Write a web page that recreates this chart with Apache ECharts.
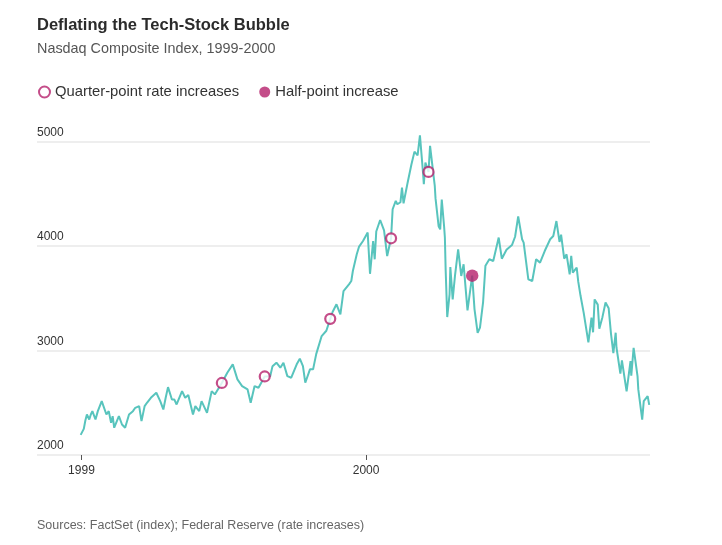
<!DOCTYPE html>
<html><head><meta charset="utf-8">
<script src="https://cdn.jsdelivr.net/npm/echarts@6/dist/echarts.min.js"></script>
<style>html,body{margin:0;padding:0;background:#fff}#c{width:722px;height:545px}</style>
</head><body><div id="c"></div>
<script>
const titleText = 'Deflating the Tech-Stock Bubble';
const subtitleText = 'Nasdaq Composite Index, 1999-2000';
const sourceText = 'Sources: FactSet (index); Federal Reserve (rate increases)';
const quarterName = 'Quarter-point rate increases';
const halfName = 'Half-point increase';

const dates = [
'1998-12-31','1999-01-04','1999-01-06','1999-01-08','1999-01-11','1999-01-13','1999-01-15','1999-01-19','1999-01-22','1999-01-27',
'1999-01-29','1999-02-02','1999-02-05','1999-02-08','1999-02-10','1999-02-12','1999-02-18','1999-02-22','1999-02-26','1999-03-03',
'1999-03-08','1999-03-11','1999-03-16','1999-03-19','1999-03-23','1999-03-26','1999-03-31','1999-04-07','1999-04-12','1999-04-16',
'1999-04-19','1999-04-22','1999-04-27','1999-04-30','1999-05-03','1999-05-10','1999-05-14','1999-05-18','1999-05-24','1999-05-27',
'1999-06-01','1999-06-04','1999-06-11','1999-06-17','1999-06-21','1999-06-30','1999-07-07','1999-07-14','1999-07-20','1999-07-26',
'1999-08-02','1999-08-06','1999-08-11','1999-08-16','1999-08-24','1999-08-31','1999-09-03','1999-09-08','1999-09-13','1999-09-17',
'1999-09-22','1999-09-27','1999-10-04','1999-10-08','1999-10-12','1999-10-15','1999-10-21','1999-10-25','1999-10-29','1999-11-05',
'1999-11-11','1999-11-16','1999-11-19','1999-11-24','1999-11-29','1999-12-03','1999-12-10','1999-12-13','1999-12-15','1999-12-20',
'1999-12-23','1999-12-28','2000-01-03','2000-01-06','2000-01-10','2000-01-12','2000-01-14','2000-01-19','2000-01-24','2000-01-28',
'2000-02-02','2000-02-04','2000-02-08','2000-02-10','2000-02-14','2000-02-16','2000-02-18','2000-02-23','2000-02-28','2000-03-03',
'2000-03-07','2000-03-10','2000-03-14','2000-03-15','2000-03-17','2000-03-21','2000-03-23','2000-03-24','2000-03-29','2000-03-30',
'2000-04-03','2000-04-05','2000-04-07','2000-04-10','2000-04-11','2000-04-12','2000-04-14','2000-04-17','2000-04-18','2000-04-21',
'2000-04-24','2000-04-28','2000-05-02','2000-05-05','2000-05-10','2000-05-16','2000-05-19','2000-05-23','2000-05-26','2000-05-30',
'2000-06-02','2000-06-07','2000-06-12','2000-06-19','2000-06-23','2000-06-29','2000-07-06','2000-07-10','2000-07-14','2000-07-19',
'2000-07-21','2000-07-27','2000-08-01','2000-08-06','2000-08-11','2000-08-17','2000-08-24','2000-08-28','2000-09-01','2000-09-05',
'2000-09-07','2000-09-11','2000-09-14','2000-09-18','2000-09-20','2000-09-22','2000-09-27','2000-09-29','2000-10-02','2000-10-06',
'2000-10-12','2000-10-16','2000-10-18','2000-10-20','2000-10-24','2000-10-26','2000-10-30','2000-11-03','2000-11-07','2000-11-10',
'2000-11-13','2000-11-16','2000-11-17','2000-11-22','2000-11-24','2000-11-30','2000-12-05','2000-12-06','2000-12-09','2000-12-14',
'2000-12-15','2000-12-20','2000-12-22','2000-12-27','2000-12-29'
];
const values = [
2193,2250,2330,2388,2340,2388,2420,2340,2420,2516,
2500,2388,2420,2308,2372,2261,2372,2292,2261,2388,
2420,2452,2468,2324,2468,2500,2548,2596,2516,2436,
2548,2650,2532,2532,2484,2612,2548,2575,2388,2468,
2420,2516,2404,2612,2580,2690,2788,2868,2724,2660,
2628,2500,2660,2644,2752,2755,2851,2884,2836,2884,
2755,2740,2868,2922,2851,2692,2820,2820,2966,3139,
3190,3304,3369,3443,3347,3570,3634,3666,3762,3922,
3996,4049,4131,3735,4049,3874,4140,4250,4150,3905,
4075,4353,4433,4401,4420,4560,4410,4600,4780,4905,
4870,5060,4700,4593,4800,4711,4960,4970,4580,4457,
4190,4160,4446,4188,4080,3769,3321,3539,3800,3490,
3720,3970,3714,3826,3385,3717,3395,3170,3219,3465,
3813,3874,3858,4082,3880,3965,4010,4090,4285,4066,
4034,3682,3666,3874,3842,3953,4066,4097,4240,4040,
4110,3880,3922,3730,3906,3746,3794,3660,3522,3361,
3078,3315,3175,3490,3440,3210,3320,3460,3405,3160,
2975,3171,3030,2780,2905,2610,2899,2760,3025,2755,
2628,2338,2516,2564,2480
];
const quarterDates = ['1999-06-30','1999-08-24','1999-11-16','2000-02-02','2000-03-21'];
const quarterValues = [2690, 2752, 3304, 4075, 4711];
const halfDates = ['2000-05-16'];
const halfValues = [3717];
const xTickDates = ['1999-01-01','2000-01-01'];
const xTickLabels = ['1999','2000'];
const xRange = ['1998-11-05','2000-12-30'];
const yMin = 2000, yMax = 5000, yStep = 1000;

// day offset from 1999-01-01 (UTC) for a 'YYYY-MM-DD' string
function dayOf(s) {
  const p = s.split('-').map(Number);
  return (Date.UTC(p[0], p[1] - 1, p[2]) - Date.UTC(1999, 0, 1)) / 86400000;
}
const xTickDays = xTickDates.map(dayOf);

const TEAL = '#58c4bd', MAG = '#b5216b';
const FONT = "'Liberation Sans', Arial, sans-serif";

const chart = echarts.init(document.getElementById('c'), null, {renderer: 'canvas'});
chart.setOption({
  animation: false,
  backgroundColor: '#fff',
  textStyle: {fontFamily: FONT},
  graphic: [
    {type: 'text', left: 37, top: 17, style: {text: titleText, font: "bold 16.5px " + FONT, fill: '#2b2b2b'}},
    {type: 'text', left: 37, top: 42.5, style: {text: subtitleText, font: "14.4px " + FONT, fill: '#555'}},
    {type: 'text', left: 37, top: 519.5, style: {text: sourceText, font: "12.5px " + FONT, fill: '#666'}}
  ],
  legend: {
    left: 38, top: 84.5, padding: 0, itemWidth: 11, itemHeight: 11, itemGap: 20,
    selectedMode: false, icon: 'circle',
    data: [quarterName, halfName],
    textStyle: {fontSize: 14.8, color: '#333', fontFamily: FONT}
  },
  grid: {left: 37, right: 72, top: 141.7, bottom: 90, containLabel: false},
  xAxis: {
    type: 'value', min: dayOf(xRange[0]), max: dayOf(xRange[1]),
    axisLine: {show: false},
    splitLine: {show: false},
    axisTick: {show: true, customValues: xTickDays, length: 5, lineStyle: {color: '#555', width: 1}},
    axisLabel: {customValues: xTickDays, margin: 10, fontSize: 12, color: '#333', fontFamily: FONT,
      formatter: v => xTickLabels[xTickDays.indexOf(v)]}
  },
  yAxis: {
    type: 'value', min: yMin, max: yMax, interval: yStep,
    axisLine: {show: false}, axisTick: {show: false},
    splitLine: {show: true, lineStyle: {color: '#e8e8e8', width: 1.5}},
    axisLabel: {inside: true, margin: 0, verticalAlign: 'bottom', padding: [0, 0, 3, 0],
      fontSize: 12, color: '#333', fontFamily: FONT, formatter: v => String(v)}
  },
  series: [
    {name: 'Nasdaq Composite', type: 'line', showSymbol: false, clip: false, z: 2,
      data: dates.map((d, i) => [dayOf(d), values[i]]),
      lineStyle: {color: TEAL, width: 2}, itemStyle: {color: TEAL}},
    {name: quarterName, type: 'scatter', symbol: 'circle', symbolSize: 10, z: 5,
      data: quarterDates.map((d, i) => [dayOf(d), quarterValues[i]]),
      itemStyle: {color: '#fff', borderColor: MAG, borderWidth: 2.2}},
    {name: halfName, type: 'scatter', symbol: 'circle', symbolSize: 12.5, z: 5,
      data: halfDates.map((d, i) => [dayOf(d), halfValues[i]]),
      itemStyle: {color: MAG}}
  ]
});
</script></body></html>
